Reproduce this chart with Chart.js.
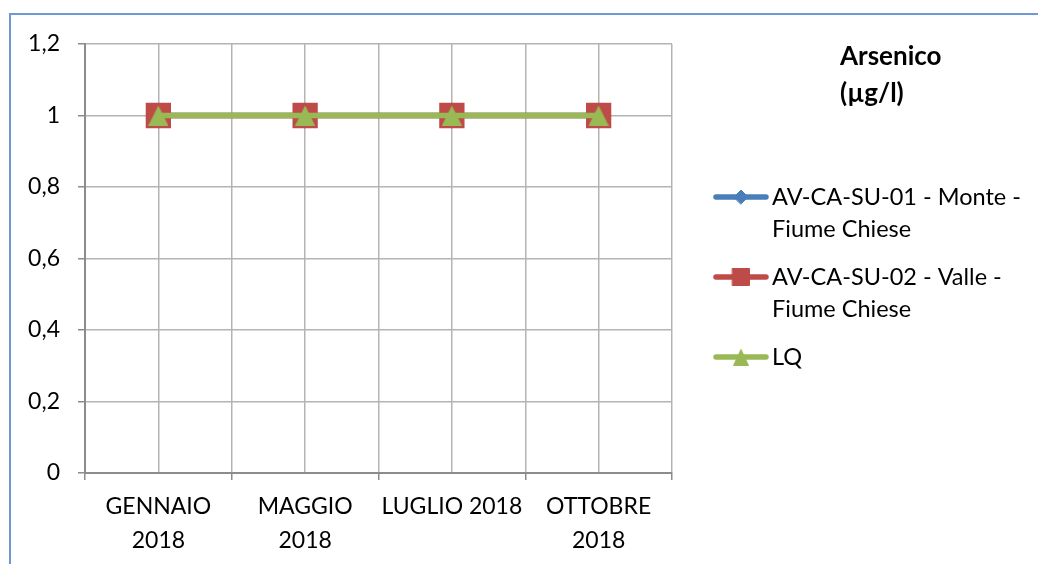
<!DOCTYPE html>
<html>
<head>
<meta charset="utf-8">
<script src="https://cdn.jsdelivr.net/npm/chart.js@4.4.1/dist/chart.umd.min.js"></script>
<style>
  html, body { margin: 0; padding: 0; background: #fff; }
  #wrap { position: relative; width: 1038px; height: 564px; overflow: hidden; }
  #frame { position: absolute; left: 9px; top: 13px; width: 1100px; height: 700px; border: 2px solid #7099d4; box-sizing: border-box; }
  canvas { position: absolute; left: 0; top: 0; }
</style>
</head>
<body>
<div id="wrap">
  <div id="frame"></div>
  <canvas id="c" width="1038" height="564"></canvas>
</div>
<script>
const categories = [["GENNAIO", "2018"], ["MAGGIO", "2018"], "LUGLIO 2018", ["OTTOBRE", "2018"]];
const monteValues = [1, 1, 1, 1];
const valleValues = [1, 1, 1, 1];
const lqValues = [1, 1, 1, 1];
const seriesNames = [["AV-CA-SU-01 - Monte -", "Fiume Chiese"], ["AV-CA-SU-02 - Valle -", "Fiume Chiese"], ["LQ"]];
const titleLines = ["Arsenico", "(\u00b5g/l)"];
const yTicks = [0, 0.2, 0.4, 0.6, 0.8, 1, 1.2];

const FONT = "Lato";
const FS = 23;

function triangleImage(w, h, color) {
  const cv = document.createElement('canvas');
  cv.width = w; cv.height = h;
  const c = cv.getContext('2d');
  c.fillStyle = color;
  c.beginPath();
  c.moveTo(w / 2, 0);
  c.lineTo(w, h);
  c.lineTo(0, h);
  c.closePath();
  c.fill();
  return cv;
}
const triChart = triangleImage(20, 20, '#98b954');
const triLegend = triangleImage(16, 17, '#98b954');

const legendPlugin = {
  id: 'sideLegend',
  afterDraw(chart) {
    const ctx = chart.ctx;
    ctx.save();
    ctx.fillStyle = '#000';
    ctx.textBaseline = 'alphabetic';
    ctx.textAlign = 'left';
    ctx.font = 'bold 26px ' + FONT;
    ctx.fillText(titleLines[0], 840, 65);
    ctx.fillText(titleLines[1], 840, 102);
    ctx.font = '23.5px ' + FONT;
    const rows = [205, 285, 365];
    const styles = ['rectRot', 'rect', triLegend];
    const radii = [7, 12, 9];
    const ds = chart.data.datasets;
    for (let i = 0; i < 3; i++) {
      const d = ds[i];
      const y = rows[i];
      const cy = y - 8;
      ctx.strokeStyle = d.borderColor;
      ctx.lineWidth = d.borderWidth;
      ctx.lineCap = 'round';
      ctx.beginPath();
      ctx.moveTo(716, cy);
      ctx.lineTo(766, cy);
      ctx.stroke();
      ctx.fillStyle = d.borderColor;
      ctx.strokeStyle = d.borderColor;
      ctx.lineWidth = 1;
      Chart.helpers.drawPoint(ctx, {
        pointStyle: styles[i], radius: radii[i], rotation: 0, borderWidth: 1
      }, 741, cy);
      ctx.fillStyle = '#000';
      seriesNames[i].forEach((t, k) => ctx.fillText(t, 772, y + k * 32));
    }
    ctx.restore();
  }
};

const fmt = v => Number(v.toFixed(1)).toString().replace('.', ',');

new Chart(document.getElementById('c'), {
  type: 'line',
  data: {
    labels: categories,
    datasets: [
      { label: seriesNames[0].join(' '), data: monteValues, borderColor: '#4a7ebb', backgroundColor: '#4a7ebb',
        pointBackgroundColor: '#4a7ebb', pointBorderColor: '#4a7ebb', borderWidth: 5.5, pointStyle: 'rectRot', pointRadius: 9, order: 2 },
      { label: seriesNames[1].join(' '), data: valleValues, borderColor: '#be4b48', backgroundColor: '#be4b48',
        pointBackgroundColor: '#be4b48', pointBorderColor: '#be4b48', borderWidth: 5.5, pointStyle: 'rect', pointRadius: 14, order: 1 },
      { label: seriesNames[2].join(' '), data: lqValues, borderColor: '#98b954', backgroundColor: '#98b954',
        pointBackgroundColor: '#98b954', pointBorderColor: '#98b954', borderWidth: 5.5, pointStyle: triChart, pointRadius: 12, order: 0 }
    ]
  },
  options: {
    responsive: false,
    animation: false,
    layout: { padding: { left: 0, top: 44, right: 366, bottom: 0 } },
    plugins: { legend: { display: false }, tooltip: { enabled: false } },
    elements: { line: { tension: 0 }, point: { borderWidth: 1 } },
    scales: {
      x: {
        type: 'category', offset: true, position: 'bottom',
        grid: { offset: true, color: '#b4b4b4', lineWidth: 1.5, tickLength: 7, tickColor: '#8c8c8c' },
        border: { color: '#8c8c8c', width: 2 },
        ticks: { color: '#000', font: { family: FONT, size: FS, lineHeight: 1.48 }, padding: 10, maxRotation: 0, autoSkip: false },
        afterFit: s => { s.height = 91; }
      },
      x2: {
        type: 'category', offset: true, position: 'bottom', labels: categories,
        grid: { offset: false, color: '#b4b4b4', lineWidth: 1.5, drawTicks: false, tickLength: 0 },
        border: { display: false },
        ticks: { display: false },
        afterFit: s => { s.height = 0; }
      },
      y: {
        min: 0, max: 1.2,
        afterBuildTicks: s => { s.ticks = yTicks.map(v => ({ value: v })); },
        grid: { color: '#b4b4b4', lineWidth: 1.5, tickLength: 7, tickColor: '#8c8c8c' },
        border: { color: '#8c8c8c', width: 2 },
        ticks: { color: '#000', font: { family: FONT, size: FS }, padding: 18, callback: v => fmt(v) },
        afterFit: s => { s.width = 85; }
      }
    }
  },
  plugins: [legendPlugin]
});
</script>
</body>
</html>
